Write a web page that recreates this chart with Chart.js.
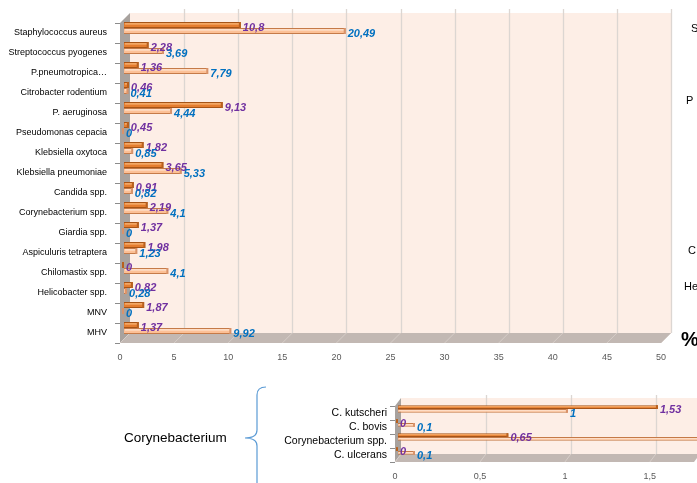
<!DOCTYPE html>
<html><head><meta charset="utf-8">
<script src="https://cdn.jsdelivr.net/npm/chart.js@4/dist/chart.umd.min.js"></script>
<style>
html,body{margin:0;padding:0;background:#fff;overflow:hidden;width:697px;height:483px;}
body{position:relative;font-family:"Liberation Sans",Arial,sans-serif;}
#w1{position:absolute;left:0;top:0;width:697px;height:372px;}
#w2{position:absolute;left:0;top:380px;width:697px;height:103px;}
.t{position:absolute;color:#000;line-height:1;white-space:nowrap;}
</style></head><body>
<div id="w1"><canvas id="c1" width="697" height="372"></canvas></div>
<div id="w2"><canvas id="c2" width="697" height="103"></canvas></div>
<div class="t" style="left:691px;top:23px;font-size:11px">S</div>
<div class="t" style="left:686px;top:95px;font-size:11px">P</div>
<div class="t" style="left:688px;top:245px;font-size:11px">C</div>
<div class="t" style="left:684px;top:281px;font-size:11px">He</div>
<div class="t" style="left:681px;top:329px;font-size:20px;font-weight:bold">%</div>
<div class="t" style="left:124px;top:431px;font-size:13.5px">Corynebacterium</div>
<svg style="position:absolute;left:0;top:0" width="697" height="483">
  <path d="M 266 387 Q 257 387 257 395 L 257 430 Q 257 438 245 438 Q 257 438 257 446 L 257 490" fill="none" stroke="#5B9BD5" stroke-width="1.2"/>
</svg>
<script>
// ---- Data: main chart ----
const categories = ['Staphylococcus aureus','Streptococcus pyogenes','P.pneumotropica…','Citrobacter rodentium','P. aeruginosa','Pseudomonas cepacia','Klebsiella oxytoca','Klebsiella pneumoniae','Candida spp.','Corynebacterium spp.','Giardia spp.','Aspiculuris tetraptera','Chilomastix spp.','Helicobacter spp.','MNV','MHV'];
const seriesDark  = [10.8, 2.28, 1.36, 0.46, 9.13, 0.45, 1.82, 3.65, 0.91, 2.19, 1.37, 1.98, 0, 0.82, 1.87, 1.37];
const seriesLight = [20.49, 3.69, 7.79, 0.41, 4.44, 0, 0.85, 5.33, 0.82, 4.1, 0, 1.23, 4.1, 0.28, 0, 9.92];
const xTicksMain = [0,5,10,15,20,25,30,35,40,45,50];

// ---- Data: Corynebacterium chart ----
const categories2 = ['C. kutscheri','C. bovis','Corynebacterium spp.','C. ulcerans'];
const dark2  = [1.53, 0, 0.65, 0];
const light2 = [1, 0.1, 2.9, 0.1];
const xTicks2 = [0, 0.5, 1, 1.5];

const FONT = '"Liberation Sans", Arial, sans-serif';
const fmt = v => String(v).replace('.', ',');

const deco = {
  id: 'deco',
  beforeDraw(chart, args, o) {
    const ctx = chart.ctx, a = chart.chartArea, x = chart.scales.x;
    const bx = o.bx, fx = o.fx, dy = o.dy;
    const maxV = x.max;
    const rB = x.getPixelForValue(maxV) + bx, rF = x.getPixelForValue(maxV) + fx;
    ctx.save();
    ctx.fillStyle = o.bg;
    ctx.fillRect(a.left + bx, a.top - dy, rB - (a.left + bx), (a.bottom - dy) - (a.top - dy));
    ctx.strokeStyle = o.grid; ctx.lineWidth = 1.3;
    o.ticks.forEach(v => {
      if (v === 0) return;
      const px = Math.round(x.getPixelForValue(v) + bx) + 0.5;
      ctx.beginPath(); ctx.moveTo(px, a.top - dy - o.over); ctx.lineTo(px, a.bottom - dy); ctx.stroke();
    });
    ctx.fillStyle = o.wall;
    ctx.beginPath();
    ctx.moveTo(a.left + fx, a.top + dy); ctx.lineTo(a.left + bx, a.top - dy);
    ctx.lineTo(a.left + bx, a.bottom - dy); ctx.lineTo(a.left + fx, a.bottom + dy);
    ctx.closePath(); ctx.fill();
    ctx.fillStyle = o.floor;
    ctx.beginPath();
    ctx.moveTo(a.left + fx, a.bottom + dy); ctx.lineTo(a.left + bx, a.bottom - dy);
    ctx.lineTo(rB, a.bottom - dy); ctx.lineTo(rF, a.bottom + dy);
    ctx.closePath(); ctx.fill();
    ctx.strokeStyle = o.slant; ctx.lineWidth = 1;
    o.ticks.forEach(v => {
      const p = x.getPixelForValue(v);
      ctx.beginPath(); ctx.moveTo(p + fx, a.bottom + dy); ctx.lineTo(p + bx, a.bottom - dy); ctx.stroke();
    });
    const n = chart.data.labels.length, step = (a.bottom - a.top) / n;
    ctx.strokeStyle = '#8c8c8c'; ctx.lineWidth = 1;
    for (let i = 0; i <= n; i++) {
      const yy = Math.round(a.top + i * step + dy) + 0.5;
      ctx.beginPath(); ctx.moveTo(a.left + fx - 5, yy); ctx.lineTo(a.left + fx, yy); ctx.stroke();
    }
    ctx.restore();
  }
};

// highlight stripe + end cap to imitate the 3D bars
const bar3d = {
  id: 'bar3d',
  afterDatasetsDraw(chart, args, o) {
    const ctx = chart.ctx, a = chart.chartArea;
    ctx.save();
    ctx.beginPath(); ctx.rect(a.left - 10, a.top - 10, a.right - a.left + 20, a.bottom - a.top + 20); ctx.clip();
    chart.data.datasets.forEach((ds, di) => {
      const meta = chart.getDatasetMeta(di);
      meta.data.forEach(el => {
        const top = el.y - el.height / 2;
        const w = el.x - el.base;
        if (w > 1) {
          ctx.fillStyle = o.hi[di];
          ctx.fillRect(el.base + 1, top + 1, w - 2, Math.max(1, el.height * 0.28));
        }
        ctx.fillStyle = o.cap[di];
        ctx.fillRect(el.x - 2, top, 2, el.height);
      });
    });
    ctx.restore();
  }
};

const vlabels = {
  id: 'vlabels',
  afterDatasetsDraw(chart, args, o) {
    const ctx = chart.ctx, a = chart.chartArea;
    ctx.save();
    ctx.font = `italic bold ${o.size}px ${FONT}`;
    ctx.textBaseline = 'middle'; ctx.textAlign = 'left';
    chart.data.datasets.forEach((ds, di) => {
      const meta = chart.getDatasetMeta(di);
      ctx.fillStyle = o.colors[di];
      meta.data.forEach((el, i) => {
        if (el.x > a.right) return;
        ctx.fillText(fmt(ds.data[i]), el.x + o.dx, el.y + o.dy);
      });
    });
    ctx.restore();
  }
};

function makeChart(id, labels, d1, d2, cfg) {
  return new Chart(document.getElementById(id), {
    type: 'bar',
    data: {
      labels: labels,
      datasets: [
        { data: d1, backgroundColor: '#E57D2F', borderColor: '#A65417', borderWidth: 1, categoryPercentage: cfg.catPct, barPercentage: 1 },
        { data: d2, backgroundColor: '#FCC096', borderColor: '#C57A48', borderWidth: 1, categoryPercentage: cfg.catPct, barPercentage: 1 }
      ]
    },
    options: {
      indexAxis: 'y',
      responsive: false,
      animation: false,
      layout: { padding: cfg.pad },
      plugins: {
        legend: { display: false }, tooltip: { enabled: false },
        deco: cfg.deco,
        bar3d: { hi: ['#F3A866', '#FEDDC6'], cap: ['#B8601E', '#D9936A'] },
        vlabels: { size: cfg.lblSize, dx: 2, dy: 3, colors: ['#7030A0', '#0070C0'] }
      },
      scales: {
        x: {
          min: 0, max: cfg.xmax,
          afterBuildTicks: s => { s.ticks = cfg.ticks.map(v => ({ value: v })); },
          afterFit: s => { s.height = cfg.xh; s.paddingLeft = 0; s.paddingRight = 0; },
          grid: { display: false, drawTicks: false }, border: { display: false },
          ticks: { color: '#595959', font: { family: FONT, size: 9 }, padding: cfg.xpad, labelOffset: cfg.deco.fx, maxRotation: 0, callback: v => fmt(v) }
        },
        y: {
          afterFit: s => { s.width = cfg.yw; s.paddingTop = 0; s.paddingBottom = 0; },
          grid: { display: false, drawTicks: false }, border: { display: false },
          ticks: { color: '#000', font: { family: FONT, size: cfg.ySize }, padding: cfg.ypad, labelOffset: cfg.ylo, autoSkip: false }
        }
      }
    },
    plugins: [deco, bar3d, vlabels]
  });
}

makeChart('c1', categories, seriesDark, seriesLight, {
  catPct: 0.6, pad: { top: 18, right: 32, bottom: 0, left: 0 }, xmax: 50, ticks: xTicksMain,
  xh: 34, xpad: 14, yw: 124, ypad: 17, ylo: 5, ySize: 9, lblSize: 11,
  deco: { bx: 6, fx: -4, dy: 5, over: 4, bg: '#FDEEE6', grid: '#DCD6D2', wall: '#A8A29E', floor: '#C2B8B3', slant: '#D6CDC8', ticks: xTicksMain }
});

makeChart('c2', categories2, dark2, light2, {
  catPct: 0.55, pad: { top: 22, right: 0, bottom: 0, left: 0 }, xmax: 1.76, ticks: xTicks2,
  xh: 25, xpad: 13, yw: 398, ypad: 11, ylo: 4, ySize: 10.5, lblSize: 11,
  deco: { bx: 3, fx: -3, dy: 4, over: 3, bg: '#FDEEE6', grid: '#DCD6D2', wall: '#A8A29E', floor: '#C2B8B3', slant: '#D6CDC8', ticks: xTicks2 }
});
</script>
</body></html>
